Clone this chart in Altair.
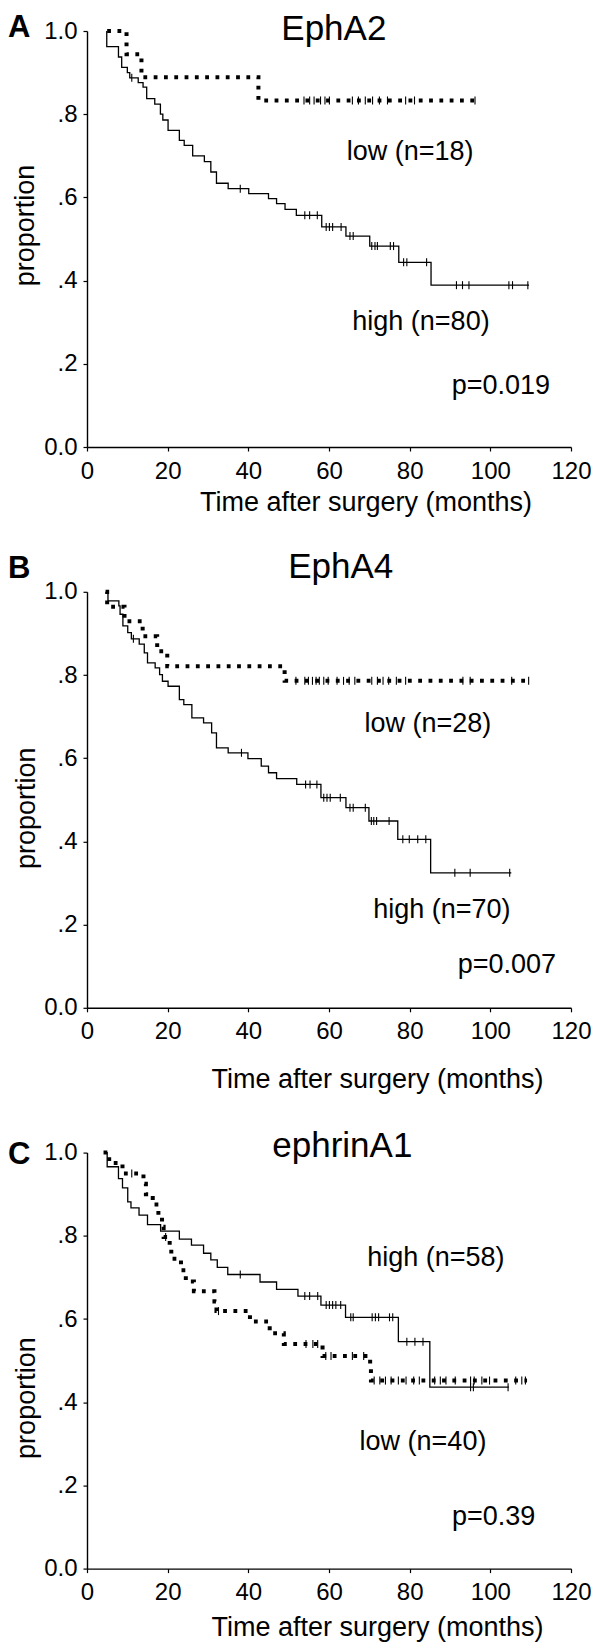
import altair as alt
import pandas as pd

FONT = "Liberation Sans, Arial, Helvetica, sans-serif"

# ---------------- Panel A : EphA2 ----------------
a_high_time = [4.9, 4.9, 7.8, 8.6, 10.0, 10.6, 12.7, 13.9, 14.8, 16.8, 18.2, 18.8, 20.1, 22.9, 24.1,
               26.2, 29.1, 30.7, 32.1, 35.0, 40.1, 45.0, 47.0, 49.1, 51.9, 58.2, 64.2, 70.1, 77.3, 85.3, 109.6]
a_high_surv = [1.0, 0.9625, 0.9375, 0.9125, 0.900, 0.8875, 0.876, 0.865, 0.8375, 0.824, 0.800, 0.786, 0.761, 0.737, 0.725,
               0.700, 0.686, 0.661, 0.634, 0.621, 0.609, 0.597, 0.585, 0.571, 0.557, 0.529, 0.507, 0.483, 0.444, 0.389, 0.389]
a_high_cens = [11.1, 38.0, 54.0, 55.2, 57.1, 59.3, 60.1, 60.9, 63.0, 65.2, 66.0, 70.6, 71.4, 72.0, 75.2,
               76.0, 78.5, 79.3, 84.2, 91.6, 93.1, 94.7, 104.6, 105.5, 109.3]
a_low_time = [5.0, 9.8, 13.5, 42.5, 96.5]
a_low_surv = [1.0, 0.944, 0.889, 0.833, 0.833]
a_low_cens = [53.8, 55.2, 56.3, 57.9, 59.0, 60.1, 65.8, 67.3, 69.0, 70.8, 72.5, 74.5, 79.0, 81.2, 96.2]

# ---------------- Panel B : EphA4 ----------------
b_high_time = [5.2, 5.2, 7.9, 8.2, 8.9, 10.1, 11.0, 12.95, 14.2, 15.0, 16.9, 18.0, 18.7, 20.1, 22.9, 24.0,
               26.0, 28.9, 30.9, 32.1, 35.0, 39.9, 43.2, 45.0, 47.0, 52.0, 58.0, 64.2, 69.9, 77.05, 85.2, 105.2]
b_high_surv = [1.0, 0.978, 0.966, 0.946, 0.918, 0.902, 0.887, 0.874, 0.853, 0.829, 0.817, 0.801, 0.785, 0.773, 0.741, 0.729,
               0.697, 0.685, 0.661, 0.625, 0.613, 0.599, 0.581, 0.565, 0.551, 0.537, 0.505, 0.481, 0.449, 0.405, 0.3245, 0.3245]
b_high_cens = [11.5, 38.3, 54.2, 55.3, 57.0, 58.7, 59.5, 60.3, 62.8, 65.2, 66.0, 69.0, 70.5, 71.1, 71.8,
               74.9, 78.3, 79.9, 82.0, 84.0, 91.2, 95.0, 104.8]
b_low_time = [4.6, 5.0, 9.3, 13.8, 17.4, 19.9, 49.0, 109.8]
b_low_surv = [1.0, 0.964, 0.929, 0.893, 0.857, 0.821, 0.786, 0.786]
b_low_cens = [51.8, 54.0, 54.9, 55.9, 56.8, 57.6, 58.7, 59.8, 62.0, 63.6, 65.0, 66.4, 70.6, 72.0, 73.4,
              74.8, 76.7, 79.0, 93.2, 95.0, 105.3, 109.5]

# ---------------- Panel C : ephrinA1 ----------------
c_high_time = [4.5, 5.0, 7.8, 8.8, 10.1, 10.9, 12.9, 15.0, 18.25, 22.9, 25.9, 28.9, 30.7, 32.3, 34.9,
               42.9, 47.0, 52.3, 58.0, 64.1, 77.2, 85.0, 104.6]
c_high_surv = [1.0, 0.966, 0.9375, 0.915, 0.8815, 0.867, 0.8495, 0.827, 0.811, 0.792, 0.7775, 0.758, 0.742, 0.724, 0.707,
               0.689, 0.671, 0.655, 0.6335, 0.604, 0.5455, 0.436, 0.436]
c_high_cens = [38.0, 54.0, 55.2, 57.2, 59.3, 60.1, 60.9, 61.7, 62.9, 65.4, 66.0, 70.7, 71.5, 72.3, 75.0,
               75.8, 79.3, 81.3, 83.3, 95.1, 95.8, 104.4]
c_low_time = [4.1, 5.5, 8.8, 14.0, 14.6, 16.3, 17.7, 18.6, 19.0, 20.5, 20.9, 23.3, 24.5, 26.5, 31.6,
              32.1, 40.4, 45.3, 48.8, 58.4, 70.2, 70.4, 109.1]
c_low_surv = [1.0, 0.975, 0.95, 0.925, 0.90, 0.875, 0.85, 0.822, 0.797, 0.768, 0.745, 0.717, 0.69, 0.667, 0.642,
              0.619, 0.594, 0.566, 0.54, 0.511, 0.482, 0.452, 0.452]
c_low_cens = [11.1, 19.5, 32.6, 54.3, 56.0, 57.2, 59.2, 60.5, 65.8, 68.6, 71.2, 72.6, 74.0, 75.4, 77.2,
              79.1, 81.0, 82.4, 86.2, 87.6, 89.0, 91.3, 95.1, 96.0, 97.9, 99.8, 106.3, 107.8, 108.7]

x_ticks = [0, 20, 40, 60, 80, 100, 120]
y_ticks = [0.0, 0.2, 0.4, 0.6, 0.8, 1.0]
x_title = "Time after surgery (months)"
y_title = "proportion"

W, H = 484, 416


def surv_at(times, survs, t):
    v = survs[0]
    for ti, si in zip(times, survs):
        if ti <= t:
            v = si
        else:
            break
    return v


def step_df(times, survs):
    return pd.DataFrame({"t": times, "s": survs, "i": list(range(len(times)))})


def cens_df(times, survs, cens):
    return pd.DataFrame({"t": cens, "s": [surv_at(times, survs, c) for c in cens]})


def panel(letter, letter_y, title, title_t, title_s, hi, lo, notes, pnote,
          xt_x, xt_y, yt_x, yt_y):
    x_enc = alt.X("t:Q", scale=alt.Scale(domain=[0, 120], nice=False, zero=False),
                  axis=alt.Axis(values=x_ticks, title=x_title, grid=False,
                                labelFont=FONT, labelFontSize=24, labelColor="black",
                                labelPadding=8, labelFlush=False, labelOverlap=False,
                                tickSize=4, tickColor="black", tickWidth=1.2,
                                domainColor="black", domainWidth=1.4,
                                titleFont=FONT, titleFontSize=27, titleFontWeight="normal",
                                titleColor="black", titleX=xt_x, titleY=xt_y,
                                titleAlign="center", titleBaseline="alphabetic"))
    y_enc = alt.Y("s:Q", scale=alt.Scale(domain=[0, 1], nice=False),
                  axis=alt.Axis(values=y_ticks, title=y_title, grid=False,
                                labelExpr="datum.value == 0 ? '0.0' : datum.value == 1 ? '1.0' : replace(format(datum.value, '.1f'), '0.', '.')",
                                labelFont=FONT, labelFontSize=24, labelColor="black",
                                labelPadding=6, tickSize=4, tickColor="black", tickWidth=1.2,
                                domainColor="black", domainWidth=1.4,
                                titleFont=FONT, titleFontSize=27, titleFontWeight="normal",
                                titleColor="black", titleAngle=270, titleX=yt_x, titleY=yt_y,
                                titleAlign="center", titleBaseline="alphabetic"))

    hi_t, hi_s, hi_c = hi
    lo_t, lo_s, lo_c = lo

    hi_line = alt.Chart(step_df(hi_t, hi_s)).mark_line(
        interpolate="step-after", color="black", strokeWidth=1.3
    ).encode(x=x_enc, y=y_enc, order=alt.Order("i:Q"))
    lo_line = alt.Chart(step_df(lo_t, lo_s)).mark_line(
        interpolate="step-after", color="black", strokeWidth=4,
        strokeDash=[3.8, 6.5], strokeCap="butt"
    ).encode(x=x_enc, y=y_enc, order=alt.Order("i:Q"))
    hi_ticks = alt.Chart(cens_df(hi_t, hi_s, hi_c)).mark_tick(
        orient="vertical", color="black", size=8, thickness=1.1, opacity=1
    ).encode(x=x_enc, y=y_enc)
    lo_ticks = alt.Chart(cens_df(lo_t, lo_s, lo_c)).mark_tick(
        orient="vertical", color="black", size=8, thickness=1.1, opacity=1
    ).encode(x=x_enc, y=y_enc)

    notes_df = pd.DataFrame({"label": [n[0] for n in notes] + [pnote[0]],
                             "t": [n[1] for n in notes] + [pnote[1]],
                             "s": [n[2] for n in notes] + [pnote[2]]})
    note_text = alt.Chart(notes_df).mark_text(
        font=FONT, fontSize=27, color="black", align="center", baseline="alphabetic"
    ).encode(x=x_enc, y=y_enc, text="label:N")

    title_df = pd.DataFrame({"label": [title], "t": [title_t], "s": [title_s]})
    title_text = alt.Chart(title_df).mark_text(
        font=FONT, fontSize=35, color="black", align="center", baseline="alphabetic"
    ).encode(x=x_enc, y=y_enc, text="label:N")

    letter_df = pd.DataFrame({"label": [letter]})
    letter_text = alt.Chart(letter_df).mark_text(
        font=FONT, fontSize=31, fontWeight="bold", color="black",
        align="left", baseline="alphabetic"
    ).encode(x=alt.value(-79), y=alt.value(letter_y), text="label:N")

    return alt.layer(hi_line, lo_line, hi_ticks, lo_ticks, note_text,
                     title_text, letter_text).properties(width=W, height=H)


pA = panel("A", 6.3, "EphA2", 61.2, 1 - 9.3 / 416,
           (a_high_time, a_high_surv, a_high_cens), (a_low_time, a_low_surv, a_low_cens),
           [("low (n=18)", 80.1, 0.691), ("high (n=80)", 82.8, 0.282)], ("p=0.019", 102.6, 0.127),
           278.5, 63.3, -54, 194)
pB = panel("B", -14, "EphA4", 62.9, 1.032,
           (b_high_time, b_high_surv, b_high_cens), (b_low_time, b_low_surv, b_low_cens),
           [("low (n=28)", 84.5, 0.663), ("high (n=70)", 88.0, 0.216)], ("p=0.007", 104.1, 0.084),
           290, 80, -52.7, 216)
pC = panel("C", 11, "ephrinA1", 63.3, 0.989,
           (c_high_time, c_high_surv, c_high_cens), (c_low_time, c_low_surv, c_low_cens),
           [("high (n=58)", 86.5, 0.728), ("low (n=40)", 83.3, 0.2856)], ("p=0.39", 100.8, 0.1056),
           290, 67, -52.5, 245)

chart = alt.vconcat(pA, pB, pC, spacing=144.8, bounds="flush").properties(
    padding={"top": 4, "left": 0, "right": 0, "bottom": 2},
    background="white"
).configure_view(stroke=None)

chart.save("out.html", embed_options={"renderer": "svg", "actions": False})
